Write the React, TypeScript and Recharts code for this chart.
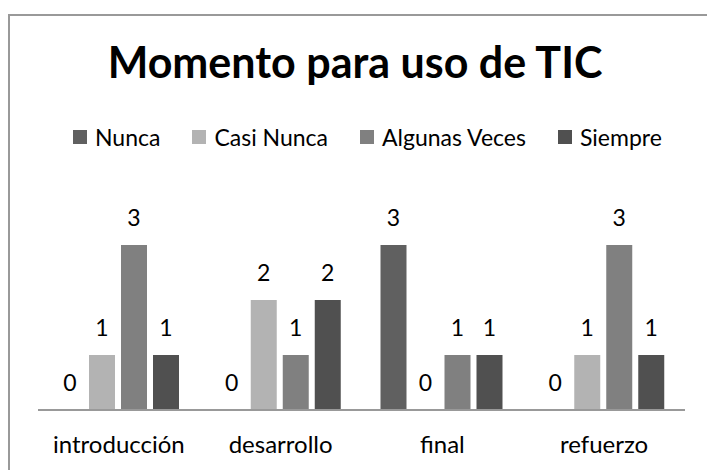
import React from 'react'
import { BarChart, Bar, XAxis, YAxis } from 'recharts'

const categories = ['introducción', 'desarrollo', 'final', 'refuerzo']
const nunca = [0, 0, 3, 0]
const casiNunca = [1, 2, 0, 1]
const algunasVeces = [3, 1, 1, 3]
const siempre = [1, 2, 1, 1]

const seriesNames = ['Nunca', 'Casi Nunca', 'Algunas Veces', 'Siempre']
const seriesKeys = ['nunca', 'casiNunca', 'algunasVeces', 'siempre']
const seriesColors = ['#606060', '#b3b3b3', '#808080', '#505050']

const data = categories.map((c, i) => ({
  name: c,
  nunca: nunca[i],
  casiNunca: casiNunca[i],
  algunasVeces: algunasVeces[i],
  siempre: siempre[i],
}))

const FONT = 'Lato, "Open Sans", sans-serif'

// etiqueta encima de cada barra (también para los ceros)
const renderLabel = (props: any) => {
  const { x, y, width, value } = props
  if (x == null || y == null) return null
  return (
    <text
      x={x + width / 2}
      y={y - 19}
      textAnchor="middle"
      fill="#000"
      fontSize={23}
      fontFamily={FONT}
    >
      {value}
    </text>
  )
}

const App = () => {
  return (
    <div style={{ position: 'absolute', left: 0, top: 0, width: 707, height: 470, overflow: 'hidden' }}>
      <div
        style={{
          position: 'absolute',
          left: 8,
          top: 14,
          width: 720,
          height: 480,
          border: '2px solid #999',
          boxSizing: 'border-box',
        }}
      />
      <svg
        width={707}
        height={100}
        style={{ position: 'absolute', left: 0, top: 0 }}
      >
        <text
          x={355}
          y={78}
          textAnchor="middle"
          fontFamily={FONT}
          fontWeight="bold"
          fontSize={43}
          fill="#000"
        >
          Momento para uso de TIC
        </text>
      </svg>
      <div
        style={{
          position: 'absolute',
          left: 73,
          top: 123,
          height: 28,
          display: 'flex',
          alignItems: 'center',
          fontFamily: FONT,
          fontSize: 23,
          lineHeight: '28px',
          color: '#000',
          whiteSpace: 'nowrap',
        }}
      >
        {seriesNames.map((n, i) => (
          <div
            key={n}
            style={{ display: 'flex', alignItems: 'center', marginRight: 32 }}
          >
            <span
              style={{
                display: 'inline-block',
                width: 14,
                height: 14,
                background: seriesColors[i],
                marginRight: 8,
              }}
            />
            <span>{n}</span>
          </div>
        ))}
      </div>
      <div style={{ position: 'absolute', left: 0, top: 0 }}>
        <BarChart
          width={707}
          height={470}
          data={data}
          margin={{ top: 190, right: 22, left: 38, bottom: 0 }}
          barCategoryGap={19}
          barGap={6}
        >
          <XAxis
            dataKey="name"
            height={60}
            tickLine={false}
            tickSize={0}
            tickMargin={26}
            axisLine={{ stroke: '#999', strokeWidth: 2 }}
            tick={{ fill: '#000', fontSize: 24, fontFamily: FONT }}
          />
          <YAxis hide domain={[0, 4]} />
          {seriesKeys.map((k, i) => (
            <Bar
              key={k}
              dataKey={k}
              name={seriesNames[i]}
              fill={seriesColors[i]}
              isAnimationActive={false}
              minPointSize={0.01}
              label={renderLabel}
            />
          ))}
        </BarChart>
      </div>
    </div>
  )
}

export default App
